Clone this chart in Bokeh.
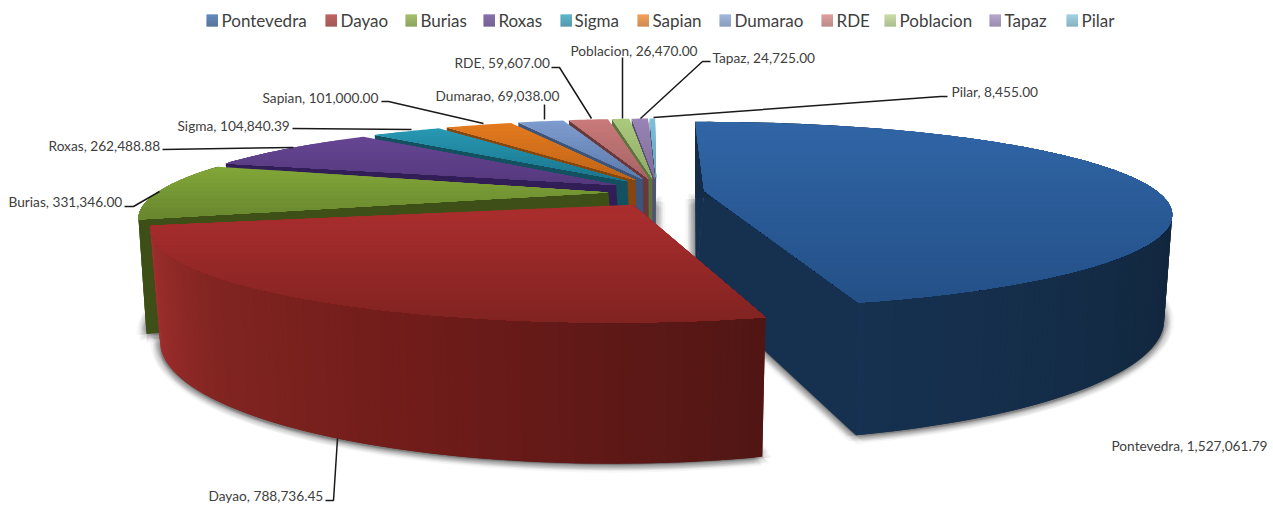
import math
import numpy as np
from bokeh.plotting import figure
from bokeh.models import Range1d, ColumnDataSource
from bokeh.embed import file_html
from bokeh.resources import INLINE
from bokeh.core.properties import value

# ---- data ----
names = ["Pontevedra", "Dayao", "Burias", "Roxas", "Sigma", "Sapian", "Dumarao", "RDE", "Poblacion", "Tapaz", "Pilar"]
values = [1527061.79, 788736.45, 331346.00, 262488.88, 104840.39, 101000.00, 69038.00, 59607.00, 26470.00, 24725.00, 8455.00]

# ---- colours (far edge of top face, near edge of top face, cut wall) ----
top_hi = [(48,101,166),(172,46,46),(130,167,56),(102,70,148),(40,152,178),(228,122,30),(126,156,206),(202,122,122),(172,202,126),(152,132,182),(126,192,218)]
top_lo = [(36,80,135),(128,35,33),(104,134,47),(84,56,124),(26,116,140),(190,100,25),(92,122,172),(166,100,100),(140,170,100),(126,110,152),(100,160,186)]
cut_wall = [(22,48,80),(85,22,20),(62,80,24),(50,30,86),(19,80,96),(135,70,15),(60,85,125),(104,56,58),(95,115,65),(86,78,112),(68,92,116)]
leg_hi = [(48,101,166),(172,48,48),(134,170,58),(94,64,146),(40,156,184),(240,130,34),(128,158,208),(212,128,126),(182,210,138),(156,136,186),(128,194,218)]
leg_lo = [(34,72,122),(130,36,34),(106,134,44),(72,48,114),(30,122,146),(190,102,26),(100,128,170),(168,100,100),(146,168,110),(122,106,146),(100,154,174)]
wall_stops = {
    0: ([0, 90, 165], [(20,44,72), (18,38,60), (22,50,82)]),
    1: ([160, 205, 240, 273], [(80,22,20), (112,28,26), (130,37,33), (166,50,50)]),
    2: ([0, 360], [(62,80,24), (62,80,24)]),
}

# ---- layout ----
legend_x = [206, 325, 405, 483, 560, 637, 719, 821, 884, 989, 1066]
legend_text_x = [221, 340, 420, 498, 574, 652, 734, 836, 899, 1004, 1081]
label_x = [1111, 208, 8, 48, 177, 262, 435, 454, 570, 712, 951]
label_y = [445, 495, 201, 145, 125, 97, 95, 62, 50, 57, 91]
leader_xs = [[], [325,333,337], [124,133,159], [162,293], [292,411], [381,388,483], [544,544], [551,559,591], [622,622], [710,702,640], [947,940,653]]
leader_ys = [[], [500,500,438], [206,206,191], [149,147], [128,129], [101,101,123], [104,119], [67,67,118], [57,118], [61,61,118], [96,96,117]]

PERSP_NEAR, PERSP_FAR = 0.70, 0.74   # perspective compression of the angle round the rim
APEX_X, APEX_Y, EX, EY = 656.0, 192.0, 48.0, 14.0

total = sum(values)
edges = np.concatenate([[0], np.cumsum(values)]) / total * 360.0


def phi(theta, c):
    t = np.radians(theta) / 2
    return 2 * np.arctan2(c * np.sin(t), np.cos(t))


def geom(i):
    th0, th1 = edges[i], edges[i + 1]
    mid = math.radians((th0 + th1) / 2)
    s, c = math.sin(mid), math.cos(mid)
    near = max(0.0, -c)
    far = max(0.0, c)
    g = {}
    g["th0"], g["th1"] = th0, th1
    g["c"] = PERSP_FAR if th0 >= 180 else PERSP_NEAR
    g["apex_t"] = (APEX_X + EX * s, APEX_Y - EY * c)
    g["apex_b"] = (655.5 + 40 * s, 288 - EY * c)
    cx = 655 + EX * s * (1 + 0.95 * near)
    g["ct"] = (cx, 216.5 - 1.5 * s + 13.5 * near - 5.5 * far)
    g["at"], g["bt"] = 469 - 8 * near, 93.0
    g["cb"] = (cx, 326 - 6 * s + 14 * near - 4 * far)
    g["ab"], g["bb"] = 461 - 10 * near, 122.0
    g["near"] = c < 0.2
    g["tweak"] = -1.0 if i == 0 else 0.0
    return g


def rim(g, th, level):
    p = phi(np.asarray(th, dtype=float), g["c"])
    p = p + np.where(np.asarray(th) < 1e-9, math.radians(g["tweak"]), 0.0)
    if level == "t":
        return g["ct"][0] + g["at"] * np.sin(p), g["ct"][1] - g["bt"] * np.cos(p)
    return g["cb"][0] + g["ab"] * np.sin(p), g["cb"][1] - g["bb"] * np.cos(p)


def hexc(col):
    return "#%02x%02x%02x" % tuple(int(round(v)) for v in col)


def lerp(a, b, t):
    return tuple(a[k] + (b[k] - a[k]) * t for k in range(3))


def clip_y(poly, y, keep_below):
    out = []
    n = len(poly)
    for k in range(n):
        p, q = poly[k], poly[(k + 1) % n]
        pin = p[1] >= y if keep_below else p[1] <= y
        qin = q[1] >= y if keep_below else q[1] <= y
        if pin:
            out.append(p)
        if pin != qin:
            t = (y - p[1]) / (q[1] - p[1])
            out.append((p[0] + (q[0] - p[0]) * t, y))
    return out


shadow_x, shadow_y = [], []
face_x, face_y, face_c = [], [], []


def add(xs, ys, col):
    face_x.append(list(map(float, xs)))
    face_y.append(list(map(float, ys)))
    face_c.append(hexc(col))


geoms = [geom(i) for i in range(len(values))]

# soft shadow: blurred copies of each slice's underside
for g in geoms:
    th = np.linspace(g["th0"], g["th1"], 60)
    bx, by = rim(g, th, "b")
    xs = np.concatenate([[g["apex_b"][0]], bx])
    ys = np.concatenate([[g["apex_b"][1]], by])
    for r in (2, 4, 6, 8, 10):
        for k in range(8):
            a = k * math.pi / 4
            shadow_x.append((xs + r * math.cos(a)).tolist())
            shadow_y.append((ys + 1 + 0.8 * r * math.sin(a)).tolist())

# painter's order: far slices, then Pontevedra, and Dayao last
order = list(range(len(values) - 1, 1, -1)) + [0, 1]
for i in order:
    g = geoms[i]
    th = np.linspace(g["th0"], g["th1"], max(8, int((g["th1"] - g["th0"]) * 1.5)))
    tx, ty = rim(g, th, "t")
    bx, by = rim(g, th, "b")
    # cut wall at the slice's start edge
    add([tx[0], g["apex_t"][0], g["apex_b"][0], bx[0]], [ty[0], g["apex_t"][1], g["apex_b"][1], by[0]], cut_wall[i])
    # cut wall at the end edge, when it faces the viewer
    if g["th1"] < 180:
        add([tx[-1], g["apex_t"][0], g["apex_b"][0], bx[-1]], [ty[-1], g["apex_t"][1], g["apex_b"][1], by[-1]], cut_wall[i])
    # outer wall as narrow shaded strips; each strip overlaps the next to hide seams
    if g["near"]:
        stops, cols = wall_stops[i]
        for k in range(len(th) - 1):
            deg = math.degrees(phi(np.array((th[k] + th[k + 1]) / 2), g["c"])) % 360
            col = tuple(np.interp(deg, stops, [c[j] for c in cols]) for j in range(3))
            e = min(k + 2, len(th) - 1)
            add([tx[k], tx[e], bx[e], bx[k]], [ty[k], ty[e], by[e], by[k]], col)
    # top face as horizontal colour bands; each band runs on under the next
    poly = [g["apex_t"]] + list(zip(tx.tolist(), ty.tolist()))
    ymin = min(p[1] for p in poly)
    ymax = max(p[1] for p in poly)
    nb = max(2, int((ymax - ymin) / 4))
    for k in range(nb):
        y0 = ymin + (ymax - ymin) * k / nb
        band = clip_y(poly, y0, True)
        if len(band) >= 3:
            add([p[0] for p in band], [p[1] for p in band], lerp(top_hi[i], top_lo[i], (k + 0.5) / nb))

p = figure(width=1273, height=506, output_backend="svg", toolbar_location=None,
           x_range=Range1d(0, 1273), y_range=Range1d(506, 0), min_border=0)
p.axis.visible = False
p.grid.visible = False
p.outline_line_color = None
p.background_fill_color = "#ffffff"

p.patches(shadow_x, shadow_y, fill_color="#000000", fill_alpha=0.03, line_color=None)
p.patches(xs="x", ys="y", source=ColumnDataSource(dict(x=face_x, y=face_y, c=face_c)),
          fill_color="c", line_color=None)

# leader lines
lx = [a for a in leader_xs if a]
ly = [a for a in leader_ys if a]
p.multi_line(lx, ly, line_color="#1a1a1a", line_width=1.5)

# data labels
label_text = [f"{n}, {v:,.2f}" for n, v in zip(names, values)]
p.text(label_x, label_y, text=label_text, text_font=value("Lato"), text_font_size="13.7px",
       text_color="#404040", text_baseline="middle", text_align="left")

# legend
sw_x, sw_y, sw_c = [], [], []
for i, x0 in enumerate(legend_x):
    for k in range(12):
        sw_x.append(x0 + 5.75)
        sw_y.append(14.5 + k)
        sw_c.append(hexc(lerp(leg_hi[i], leg_lo[i], k / 11)))
p.rect(sw_x, sw_y, width=11.5, height=1.2, fill_color=sw_c, line_color=None)
p.text(legend_text_x, [20] * len(names), text=names, text_font=value("Lato"), text_font_size="17px",
       text_color="#404040", text_baseline="middle", text_align="left")

open("out.html", "w").write(file_html(p, INLINE))
